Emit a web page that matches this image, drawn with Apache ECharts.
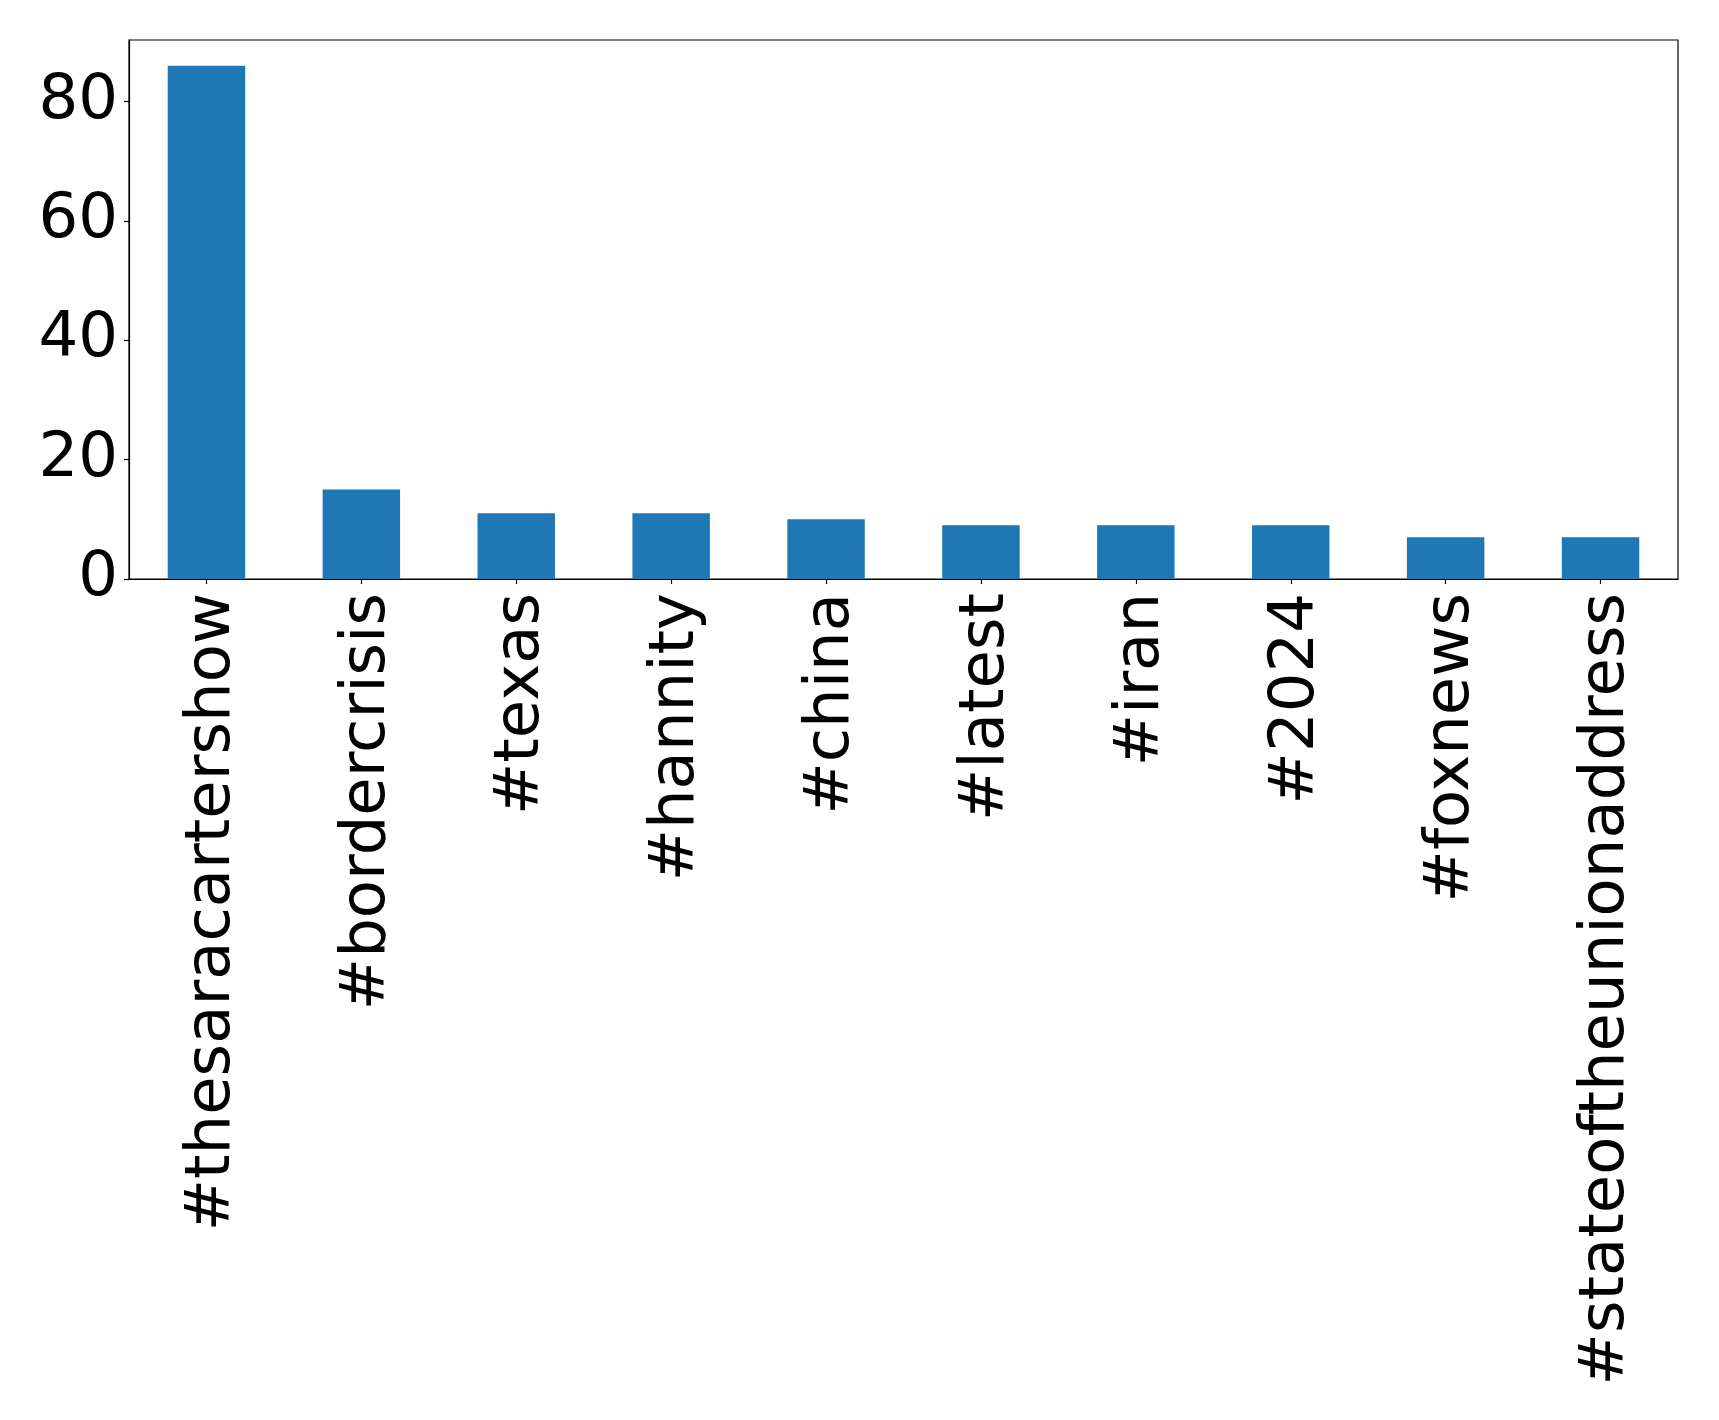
<!DOCTYPE html>
<html>
<head>
<meta charset="utf-8">
<script src="https://cdn.jsdelivr.net/npm/echarts@6/dist/echarts.min.js"></script>
<style>
html,body{margin:0;padding:0;background:#fff;}
#chart{width:1719px;height:1420px;}
</style>
</head>
<body>
<div id="chart"></div>
<script>
const categories = ["#thesaracartershow","#bordercrisis","#texas","#hannity","#china","#latest","#iran","#2024","#foxnews","#stateoftheunionaddress"];
const counts = [86, 15, 11, 11, 10, 9, 9, 9, 7, 7];
const yTicks = [0, 20, 40, 60, 80];

const chart = echarts.init(document.getElementById('chart'), null, {renderer: 'canvas'});
const font = "DejaVu Sans";
chart.setOption({
  animation: false,
  backgroundColor: '#ffffff',
  grid: {
    left: 129, right: 41, top: 40, bottom: 841,
    show: true, borderColor: '#000', borderWidth: 1.2, backgroundColor: 'transparent'
  },
  xAxis: {
    type: 'category',
    data: categories,
    boundaryGap: true,
    axisLine: {show: true, lineStyle: {color: '#000', width: 1.2}},
    axisTick: {show: true, alignWithLabel: true, length: 5, lineStyle: {color: '#000', width: 1.2}},
    axisLabel: {rotate: 90, margin: 14, color: '#000', fontFamily: font, fontSize: 62.5, interval: 0,
      formatter: function (v) { return '{a|' + v + '}'; },
      rich: {a: {fontFamily: font, fontSize: 62.5, color: '#000', padding: [12, 0, 0, 0]}}
    }
  },
  yAxis: {
    type: 'value',
    min: 0,
    max: 90.3,
    interval: 20,
    splitLine: {show: false},
    axisLine: {show: true, lineStyle: {color: '#000', width: 1.2}},
    axisTick: {show: true, length: 5, lineStyle: {color: '#000', width: 1.2}},
    axisLabel: {
      margin: 11, color: '#000', fontFamily: font, fontSize: 62.5, showMaxLabel: false,
      formatter: function (v) { return yTicks.indexOf(v) >= 0 ? String(v) : ''; }
    }
  },
  series: [{
    type: 'bar',
    data: counts,
    barWidth: '50%',
    itemStyle: {color: '#1f77b4'}
  }]
});
</script>
</body>
</html>
